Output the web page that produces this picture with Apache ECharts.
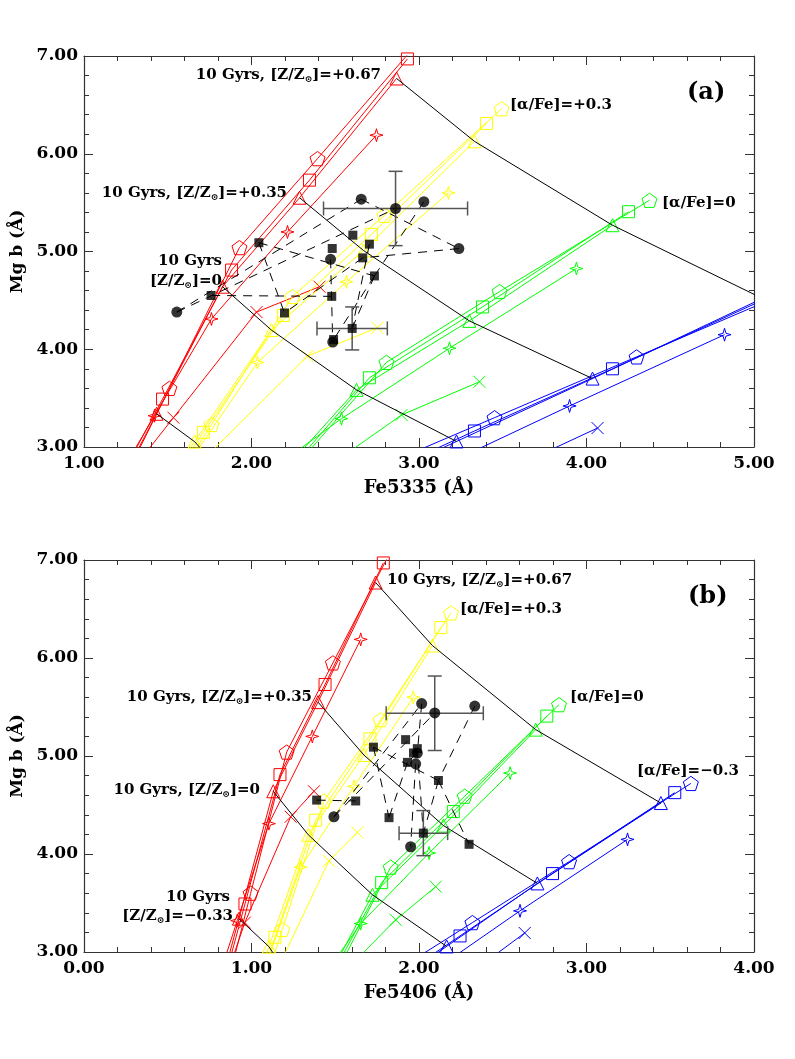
<!DOCTYPE html>
<html>
<head>
<meta charset="utf-8">
<script src="https://cdn.jsdelivr.net/npm/echarts@6/dist/echarts.min.js"></script>
<style>html,body{margin:0;padding:0;background:#fff}#main{width:795px;height:1059px}</style>
</head>
<body>
<div id="main"></div>
<script>
// model grid, each line = one age (marker), points ordered by [Z/H] = -1.35, -0.33, 0, +0.35, +0.67
const MARKERS = ['pent', 'sq', 'tri', 'star', 'x'];

const MGB_RED = {
  pent: [2.0, 3.60, 5.04, 5.95, 7.15],
  sq:   [2.0, 3.49, 4.81, 5.73, 6.97],
  tri:  [2.0, 3.34, 4.64, 5.55, 6.77],
  star: [2.0, 3.32, 4.31, 5.20, 6.19],
  x:    [2.0, 3.30, 4.38, 4.64, null]
};
const FE5335_RED = {
  pent: [1.046, 1.510, 1.928, 2.394, 3.00],
  sq:   [1.004, 1.469, 1.881, 2.346, 2.931],
  tri:  [1.027, 1.433, 1.827, 2.287, 2.866],
  star: [0.968, 1.421, 1.761, 2.215, 2.746],
  x:    [0.937, 1.534, 2.030, 2.406, null]
};
const FE5406_RED = {
  pent: [0.757, 0.995, 1.210, 1.486, 1.85],
  sq:   [0.725, 0.961, 1.170, 1.439, 1.787],
  tri:  [0.713, 0.925, 1.130, 1.397, 1.741],
  star: [0.664, 0.915, 1.104, 1.363, 1.652],
  x:    [0.700, 0.960, 1.234, 1.373, null]
};

const MGB_YELLOW = {
  pent: [2.0, 3.23, 4.54, 5.37, 6.46],
  sq:   [2.0, 3.15, 4.345, 5.175, 6.31],
  tri:  [2.0, 3.055, 4.196, 5.01, 6.127],
  star: [2.0, 2.95, 3.865, 4.69, 5.60],
  x:    [2.0, 2.85, 3.93, 4.22, null]
};
const FE5335_YELLOW = {
  pent: [1.307, 1.761, 2.245, 2.794, 3.493],
  sq:   [1.253, 1.713, 2.191, 2.716, 3.403],
  tri:  [1.236, 1.660, 2.119, 2.669, 3.331],
  star: [1.290, 1.670, 2.036, 2.567, 3.176],
  x:    [1.200, 1.700, 2.334, 2.752, null]
};
const FE5406_YELLOW = {
  pent: [0.951, 1.184, 1.432, 1.771, 2.191],
  sq:   [0.906, 1.140, 1.383, 1.707, 2.130],
  tri:  [0.887, 1.104, 1.339, 1.671, 2.080],
  star: [0.908, 1.104, 1.293, 1.612, 1.966],
  x:    [0.924, 1.162, 1.462, 1.632, null]
};

const MGB_GREEN = {
  pent: [null, 2.6, 3.866, 4.59, 5.524],
  sq:   [null, 2.5, 3.708, 4.433, 5.407],
  tri:  [null, 2.4, 3.584, 4.29, 5.269],
  star: [null, 2.3, 3.29, 4.01, 4.826],
  x:    [null, 2.85, 3.328, 3.667, null]
};
const FE5335_GREEN = {
  pent: [null, 2.160, 2.806, 3.481, 4.376],
  sq:   [null, 2.093, 2.704, 3.379, 4.251],
  tri:  [null, 2.004, 2.627, 3.301, 4.155],
  star: [null, 1.745, 2.537, 3.182, 3.940],
  x:    [null, 2.500, 2.896, 3.361, null]
};
const FE5406_GREEN = {
  pent: [null, 1.451, 1.831, 2.273, 2.836],
  sq:   [null, 1.398, 1.777, 2.205, 2.763],
  tri:  [null, 1.353, 1.722, 2.146, 2.697],
  star: [null, 1.242, 1.652, 2.060, 2.544],
  x:    [null, 1.584, 1.861, 2.100, null]
};

const MGB_BLUE = {
  pent: [null, 2.5, 3.30, 3.922, 4.72],
  sq:   [null, 2.5, 3.164, 3.80, 4.626],
  tri:  [null, 2.5, 3.057, 3.70, 4.52],
  star: [null, null, 2.6, 3.42, 4.149],
  x:    [null, 2.7, 3.194, null, null]
};
const FE5335_BLUE = {
  pent: [null, 2.360, 3.451, 4.299, 5.39],
  sq:   [null, 2.494, 3.331, 4.155, 5.21],
  tri:  [null, 2.526, 3.224, 4.036, 5.05],
  star: [null, null, 2.884, 3.899, 4.824],
  x:    [null, 3.446, 4.066, null, null]
};
const FE5406_BLUE = {
  pent: [null, 1.577, 2.319, 2.896, 3.623],
  sq:   [null, 1.669, 2.245, 2.797, 3.527],
  tri:  [null, 1.695, 2.165, 2.707, 3.444],
  star: [null, null, 1.912, 2.603, 3.245],
  x:    [null, 2.241, 2.631, null, null]
};

// galaxies: filled circles and filled squares
const OBS_CIRCLE_MGB    = [5.535, 5.510, 5.440, 5.030, 4.920, 4.380, 4.074];
const OBS_CIRCLE_FE5335 = [2.655, 3.029, 2.860, 3.238, 2.472, 1.554, 2.485];
const OBS_CIRCLE_FE5406 = [2.016, 2.333, 2.094, 1.990, 1.980, 1.492, 1.950];
const OBS_SQUARE_MGB    = [5.090, 5.167, 5.031, 5.075, 4.935, 4.750, 4.550, 4.541, 4.371, 4.213, 4.099];
const OBS_SQUARE_FE5335 = [2.044, 2.605, 2.482, 2.704, 2.664, 2.734, 1.759, 2.479, 2.197, 2.601, 2.490];
const OBS_SQUARE_FE5406 = [1.728, 1.920, 1.967, 1.990, 1.931, 2.116, 1.389, 1.622, 1.821, 2.026, 2.299];
// dashed links between measurements ('c' circle, 's' square, index)
const LINKS = [
  ['c5', 'c2'], ['c5', 'c0'], ['s6', 's7'], ['s0', 's8'], ['s0', 's5'], ['c1', 's5'],
  ['s5', 's9'], ['s5', 's10'], ['c0', 'c3'], ['c3', 's4'], ['c4', 'c6'], ['s4', 's8'], ['s3', 's9']
];
// typical error bars: [Fe, Mgb, errFe, errMgb]
const ERR_FE5335 = [[2.860, 5.440, 0.43, 0.38], [2.601, 4.213, 0.21, 0.22]];
const ERR_FE5406 = [[2.094, 5.436, 0.29, 0.38], [2.026, 4.213, 0.145, 0.23]];

const FONT = 'DejaVu Serif';
const SYMBOLS = {
  pent: 'path://M0,-10 L9.51,-3.09 L5.88,8.09 L-5.88,8.09 L-9.51,-3.09 Z',
  sq: 'rect',
  tri: 'triangle',
  star: 'path://M0,-10 L2.2,-2.2 L10,0 L2.2,2.2 L0,10 L-2.2,2.2 L-10,0 L-2.2,-2.2 Z',
  x: 'path://M-10,-10 L10,10 M10,-10 L-10,10'
};
const SIZES = { pent: 15, sq: 12, tri: 13, star: 13, x: 12 };

const MODELS = [
  { color: '#ff0000', mgb: MGB_RED, fe: [FE5335_RED, FE5406_RED] },
  { color: '#ffff00', mgb: MGB_YELLOW, fe: [FE5335_YELLOW, FE5406_YELLOW] },
  { color: '#00ff00', mgb: MGB_GREEN, fe: [FE5335_GREEN, FE5406_GREEN] },
  { color: '#0000ff', mgb: MGB_BLUE, fe: [FE5335_BLUE, FE5406_BLUE] }
];
const OBS = [
  { c: OBS_CIRCLE_FE5335, s: OBS_SQUARE_FE5335, err: ERR_FE5335 },
  { c: OBS_CIRCLE_FE5406, s: OBS_SQUARE_FE5406, err: ERR_FE5406 }
];

var myChart = echarts.init(document.getElementById('main'), null, { renderer: 'canvas' });

const axisColor = '#333';
function xAxes(gi, min, max, name) {
  const base = {
    gridIndex: gi, type: 'value', min: min, max: max, interval: 1,
    axisLine: { onZero: false, lineStyle: { color: axisColor, width: 1.2 } },
    axisTick: { inside: true, length: 9, lineStyle: { color: axisColor } },
    minorTick: { show: true, splitNumber: 5, length: 5, lineStyle: { color: axisColor } },
    splitLine: { show: false }
  };
  return [
    Object.assign({}, base, {
      position: 'bottom', name: name, nameLocation: 'middle', nameGap: 32,
      nameTextStyle: { fontFamily: FONT, fontWeight: 'bold', fontSize: 18, color: '#000' },
      axisLabel: { formatter: v => v.toFixed(2), fontFamily: FONT, fontWeight: 'bold', fontSize: 17, color: '#000', margin: 8 }
    }),
    Object.assign({}, base, { position: 'top', axisLabel: { show: false } })
  ];
}
function yAxes(gi) {
  const base = {
    gridIndex: gi, type: 'value', min: 3, max: 7, interval: 1,
    axisLine: { onZero: false, lineStyle: { color: axisColor, width: 1.2 } },
    axisTick: { inside: true, length: 9, lineStyle: { color: axisColor } },
    minorTick: { show: true, splitNumber: 5, length: 5, lineStyle: { color: axisColor } },
    splitLine: { show: false }
  };
  return [
    Object.assign({}, base, {
      position: 'left', name: 'Mg b (Å)', nameLocation: 'middle', nameGap: 49,
      nameTextStyle: { fontFamily: FONT, fontWeight: 'bold', fontSize: 17, color: '#000' },
      axisLabel: { formatter: v => v.toFixed(2), fontFamily: FONT, fontWeight: 'bold', fontSize: 17, color: '#000', margin: 6 }
    }),
    Object.assign({}, base, { position: 'right', axisLabel: { show: false } })
  ];
}

const series = [];
[0, 1].forEach(p => {
  const ax = { xAxisIndex: p * 2, yAxisIndex: p * 2 };
  // coloured model lines
  MODELS.forEach(m => {
    MARKERS.forEach(k => {
      const pts = [];
      m.mgb[k].forEach((v, i) => {
        const f = m.fe[p][k][i];
        if (v != null && f != null) pts.push([f, v]);
      });
      series.push(Object.assign({
        type: 'line', data: pts, symbol: SYMBOLS[k], symbolSize: SIZES[k], symbolKeepAspect: true,
        showSymbol: true, clip: true, silent: true, animation: false, z: 2,
        lineStyle: { color: m.color, width: 1 },
        itemStyle: { color: 'rgba(0,0,0,0)', borderColor: m.color, borderWidth: 1 }
      }, ax));
    });
  });
  // 10 Gyr iso-metallicity lines through the triangles
  [1, 2, 3, 4].forEach(z => {
    const pts = MODELS.map(m => [m.fe[p].tri[z], m.mgb.tri[z]]).filter(d => d[0] != null && d[1] != null);
    series.push(Object.assign({
      type: 'line', data: pts, showSymbol: false, clip: true, silent: true, animation: false, z: 3,
      lineStyle: { color: '#000', width: 1 }
    }, ax));
  });
  const pt = id => {
    const i = +id.slice(1);
    return id[0] === 'c' ? [OBS[p].c[i], OBS_CIRCLE_MGB[i]] : [OBS[p].s[i], OBS_SQUARE_MGB[i]];
  };
  series.push(Object.assign({
    type: 'lines', coordinateSystem: 'cartesian2d', silent: true, animation: false, z: 4,
    lineStyle: { color: '#000', width: 1, type: [9, 7], opacity: 1 },
    data: LINKS.map(l => ({ coords: [pt(l[0]), pt(l[1])] }))
  }, ax));
  series.push(Object.assign({
    type: 'custom', data: OBS[p].err, silent: true, animation: false, z: 5,
    encode: { x: 0, y: 1 },
    renderItem: function (params, api) {
      const x = api.value(0), y = api.value(1), ex = api.value(2), ey = api.value(3);
      const l = api.coord([x - ex, y]), r = api.coord([x + ex, y]);
      const t = api.coord([x, y + ey]), b = api.coord([x, y - ey]);
      const c = 7;
      const st = { stroke: '#555', lineWidth: 1.5 };
      const seg = (x1, y1, x2, y2) => ({ type: 'line', shape: { x1, y1, x2, y2 }, style: st });
      return {
        type: 'group', children: [
          seg(l[0], l[1], r[0], r[1]), seg(t[0], t[1], b[0], b[1]),
          seg(l[0], l[1] - c, l[0], l[1] + c), seg(r[0], r[1] - c, r[0], r[1] + c),
          seg(t[0] - c, t[1], t[0] + c, t[1]), seg(b[0] - c, b[1], b[0] + c, b[1])
        ]
      };
    }
  }, ax));
  series.push(Object.assign({
    type: 'scatter', symbol: 'rect', symbolSize: 9, silent: true, animation: false, z: 6,
    itemStyle: { color: '#000' },
    data: OBS[p].s.map((f, i) => [f, OBS_SQUARE_MGB[i]])
  }, ax));
  series.push(Object.assign({
    type: 'scatter', symbol: 'circle', symbolSize: 11, silent: true, animation: false, z: 7,
    itemStyle: { color: '#000' },
    data: OBS[p].c.map((f, i) => [f, OBS_CIRCLE_MGB[i]])
  }, ax));
});

// subscript sun symbol in the labels
const rich = {
  n: { fontFamily: FONT, fontWeight: 'bold', fontSize: 15, fill: '#000', lineHeight: 18 },
  s: { fontFamily: FONT, fontWeight: 'bold', fontSize: 9, fill: '#000', lineHeight: 18, verticalAlign: 'bottom', padding: [7, 0, 0, 0] }
};
function zlab(pre, post) { return '{n|' + pre + '[Z/Z}{s|⊙}{n|]=' + post + '}'; }
function txt(x, y, text, align, size) {
  return {
    type: 'text', x: x, y: y, silent: true,
    style: {
      text: text, rich: rich, align: align || 'left', verticalAlign: 'middle',
      font: 'bold ' + (size || 15) + 'px "' + FONT + '"', fill: '#000'
    }
  };
}

let option = {
  backgroundColor: '#ffffff',
  animation: false,
  grid: [
    { left: 84, top: 56, width: 670, height: 391 },
    { left: 84, top: 560, width: 670, height: 392 }
  ],
  xAxis: xAxes(0, 1, 5, 'Fe5335 (Å)').concat(xAxes(1, 0, 4, 'Fe5406 (Å)')),
  yAxis: yAxes(0).concat(yAxes(1)),
  series: series,
  graphic: [
    txt(381, 75, zlab('10 Gyrs, ', '+0.67'), 'right'),
    txt(287, 193, zlab('10 Gyrs, ', '+0.35'), 'right'),
    txt(222, 261, '{n|10 Gyrs}', 'right'),
    txt(222, 281, zlab('', '0'), 'right'),
    txt(510, 105, '{n|[α/Fe]=+0.3}'),
    txt(662, 203, '{n|[α/Fe]=0}'),
    txt(687, 93, '(a)', 'left', 24),
    txt(387, 580, zlab('10 Gyrs, ', '+0.67')),
    txt(460, 609, '{n|[α/Fe]=+0.3}'),
    txt(312, 697, zlab('10 Gyrs, ', '+0.35'), 'right'),
    txt(570, 697, '{n|[α/Fe]=0}'),
    txt(637, 771, '{n|[α/Fe]=−0.3}'),
    txt(260, 790, zlab('10 Gyrs, ', '0'), 'right'),
    txt(230, 897, '{n|10 Gyrs}', 'right'),
    txt(233, 916, zlab('', '−0.33'), 'right'),
    txt(688, 597, '(b)', 'left', 24)
  ]
};
option && myChart.setOption(option);
</script>
</body>
</html>
